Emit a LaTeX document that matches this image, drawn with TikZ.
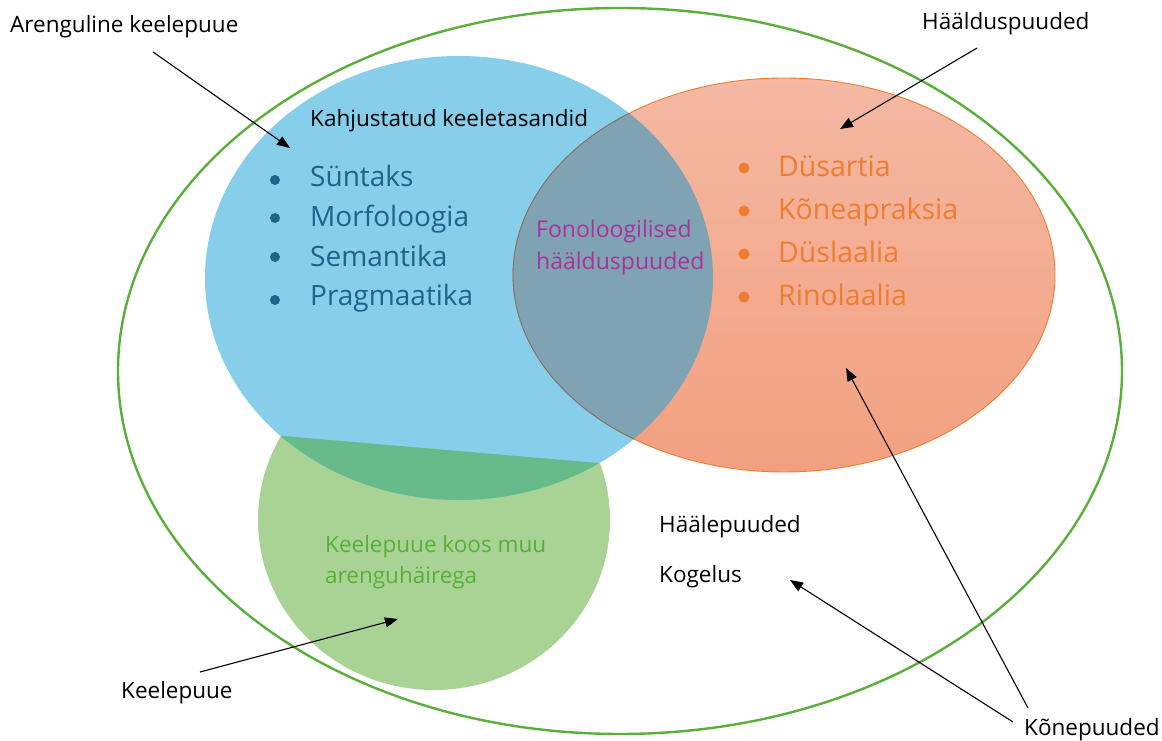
\documentclass[tikz,border=0pt]{standalone}
\usepackage{fontspec}
\setmainfont{Open Sans}
\usetikzlibrary{arrows.meta}
\definecolor{outergreen}{HTML}{5AAE3A}
\definecolor{bluefill}{HTML}{87CEEA}
\definecolor{greenfill}{HTML}{A9D395}
\definecolor{darkgreen}{HTML}{67BB8B}
\definecolor{orangetop}{HTML}{F4B8A3}
\definecolor{orangebot}{HTML}{F2A080}
\definecolor{orangeline}{HTML}{ED7D31}
\definecolor{overlapfill}{HTML}{80A3B3}
\definecolor{bluetext}{HTML}{1D6588}
\definecolor{purpletext}{HTML}{A8329E}
\definecolor{greentext}{HTML}{5AAE3A}
\begin{document}
\begin{tikzpicture}[x=1pt,y=1pt,
  lbl/.style={inner sep=0pt, anchor=base west, font=\fontsize{22.5}{26}\selectfont, text=black},
  blueitem/.style={inner sep=0pt, anchor=base west, font=\fontsize{28}{32}\selectfont, text=bluetext},
  orangeitem/.style={inner sep=0pt, anchor=base west, font=\fontsize{28.5}{32}\selectfont, text=orangeline},
  purpleitem/.style={inner sep=0pt, anchor=base west, font=\fontsize{23}{27}\selectfont, text=purpletext},
  greenitem/.style={inner sep=0pt, anchor=base west, font=\fontsize{22.5}{26}\selectfont, text=greentext},
  pointer/.style={draw=black, line width=1.1pt, -{Triangle[length=13pt,width=10pt]}},
  dotb/.style={circle, fill=bluetext, inner sep=0pt, minimum size=10pt},
  doto/.style={circle, fill=orangeline, inner sep=0pt, minimum size=11pt}]
\useasboundingbox (0,0) rectangle (1162,740);
% outer ellipse
\draw[outergreen, line width=2.4pt] (620,369) ellipse [x radius=502, y radius=363];
% green ellipse
\fill[greenfill] (434,220) ellipse [x radius=176, y radius=170];
% blue ellipse
\fill[bluefill] (459,462) ellipse [x radius=254, y radius=222];
% dark green overlap below chord
\begin{scope}
  \clip (459,462) ellipse [x radius=254, y radius=222];
  \clip (434,220) ellipse [x radius=176, y radius=170];
  \fill[darkgreen] (150,315.4) -- (700,268.3) -- (700,0) -- (150,0) -- cycle;
\end{scope}
% orange ellipse
\shade[top color=orangetop, bottom color=orangebot] (784,465) ellipse [x radius=271, y radius=197];
\begin{scope}
  \clip (459,462) ellipse [x radius=254, y radius=222];
  \fill[overlapfill] (784,465) ellipse [x radius=271, y radius=197];
\end{scope}
\draw[orangeline, line width=0.9pt] (784,465) ellipse [x radius=271, y radius=197];
\begin{scope}
  \clip (459,462) ellipse [x radius=254, y radius=222];
  \draw[overlapfill!75!black, line width=0.8pt] (784,465) ellipse [x radius=271, y radius=197];
\end{scope}
% texts
\node[lbl] (areng) at (10,707) {Arenguline keelepuue};
\node[lbl] (haald) at (922,710) {Häälduspuuded};
\node[lbl] (kahj) at (310,613) {Kahjustatud keeletasandid};
\node[blueitem] (syn) at (310,553) {Süntaks};
\node[blueitem] (mor) at (310,513) {Morfoloogia};
\node[blueitem] (sem) at (310,473) {Semantika};
\node[blueitem] (pra) at (310,434) {Pragmaatika};
\node[dotb] (b1) at (275,560) {};
\node[dotb] (b2) at (275,522) {};
\node[dotb] (b3) at (275,483) {};
\node[dotb] (b4) at (275,440) {};
\node[purpleitem] (fon1) at (536,502) {Fonoloogilised};
\node[purpleitem] (fon2) at (536,470) {häälduspuuded};
\node[orangeitem] (dys) at (778,563) {Düsartia};
\node[orangeitem] (kon) at (778,520) {Kõneapraksia};
\node[orangeitem] (dysl) at (778,477) {Düslaalia};
\node[orangeitem] (rin) at (778,434) {Rinolaalia};
\node[doto] (o1) at (744,572) {};
\node[doto] (o2) at (744,529) {};
\node[doto] (o3) at (744,486) {};
\node[doto] (o4) at (744,443) {};
\node[greenitem] (kk1) at (325,188) {Keelepuue koos muu};
\node[greenitem] (kk2) at (325,157) {arenguhäirega};
\node[lbl] (hlp) at (659,208) {Häälepuuded};
\node[lbl] (kog) at (659,158) {Kogelus};
\node[lbl] (keel) at (121,42) {Keelepuue};
\node[lbl] (kone) at (1024,5) {Kõnepuuded};
% arrow coordinates
\coordinate (a1s) at (153,688);
\coordinate (a1e) at (290,592);
\coordinate (a2s) at (977,692);
\coordinate (a2e) at (840,611);
\coordinate (a3s) at (200,68);
\coordinate (a3e) at (398,121);
\coordinate (a4s) at (1028,32);
\coordinate (a4e) at (846,372);
\coordinate (a5s) at (1013,18);
\coordinate (a5e) at (790,160);
\draw[pointer] (a1s) -- (a1e);
\draw[pointer] (a2s) -- (a2e);
\draw[pointer] (a3s) -- (a3e);
\draw[pointer] (a4s) -- (a4e);
\draw[pointer] (a5s) -- (a5e);
\end{tikzpicture}
\end{document}
